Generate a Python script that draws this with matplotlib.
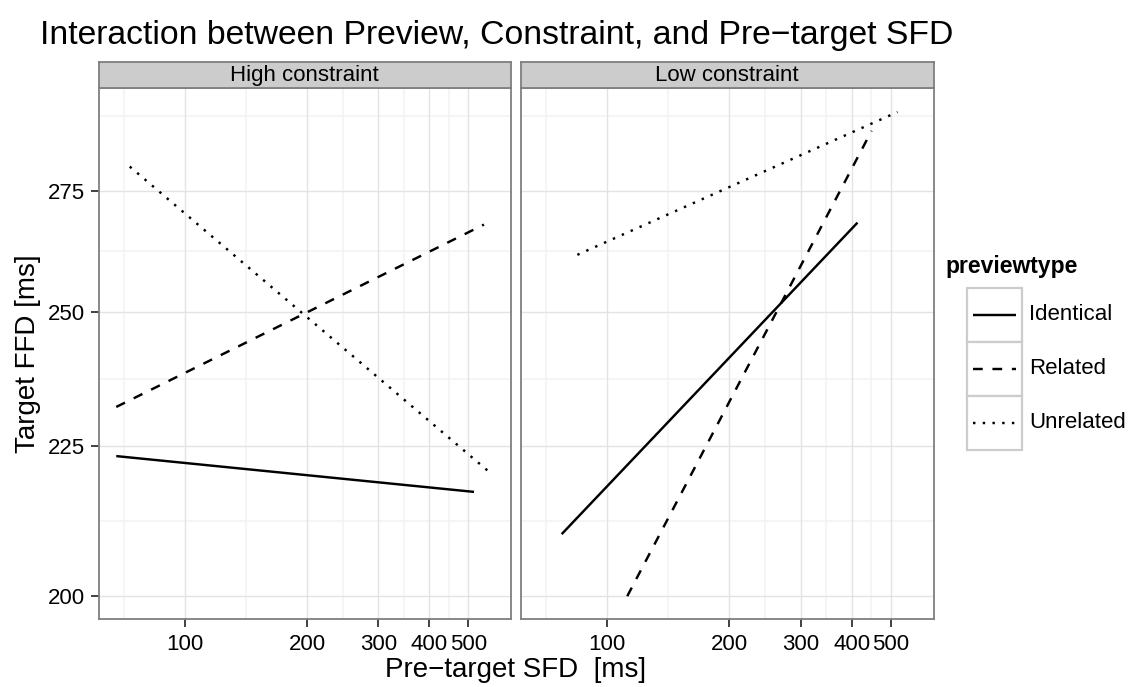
import matplotlib
matplotlib.use("Agg")
import matplotlib.pyplot as plt
import numpy as np
from matplotlib.patches import Rectangle
from matplotlib.lines import Line2D

plt.rcParams['font.family'] = ['Liberation Sans', 'DejaVu Sans']

# ---------------- data ----------------
panels = ["High constraint", "Low constraint"]
preview_types = ["Identical", "Related", "Unrelated"]
styles = {"Identical": (0, ()), "Related": (0, (4, 4)), "Unrelated": (0, (1, 3))}

# fitted-line endpoints (x = pre-target SFD ms, y = target FFD ms)
high_identical_x = [67.8, 516.0]
high_identical_y = [223.2, 217.0]
high_related_x = [67.8, 546.0]
high_related_y = [232.0, 267.8]
high_unrelated_x = [73.2, 561.0]
high_unrelated_y = [280.3, 220.5]

low_identical_x = [77.2, 413.5]
low_identical_y = [209.9, 268.2]
low_related_x = [112.0, 448.0]
low_related_y = [199.9, 288.3]
low_unrelated_x = [84.4, 519.0]
low_unrelated_y = [261.5, 292.6]

series = {
    "High constraint": {
        "Identical": (high_identical_x, high_identical_y),
        "Related": (high_related_x, high_related_y),
        "Unrelated": (high_unrelated_x, high_unrelated_y),
    },
    "Low constraint": {
        "Identical": (low_identical_x, low_identical_y),
        "Related": (low_related_x, low_related_y),
        "Unrelated": (low_unrelated_x, low_unrelated_y),
    },
}

x_ticks = [100, 200, 300, 400, 500]
y_ticks = [200, 225, 250, 275]

# ---------------- layout ----------------
W, H = 1132, 687
fig = plt.figure(figsize=(W / 100, H / 100), dpi=100)
fig.patch.set_facecolor("white")


def rect(x0, y0, x1, y1):
    return [x0 / W, 1 - y1 / H, (x1 - x0) / W, (y1 - y0) / H]


panel_top, panel_bot = 87.5, 619.3
panel_lefts = [98.5, 521.0]
panel_w = 412.5
strip_top = 62.0

xlim = (61.3, 636.5)
ylim = (196.3, 298.3)


def minor_breaks(major, lo, hi):
    lb = np.log10(major)
    bd = lb[1] - lb[0]
    ext = np.concatenate([[lb[0] - bd], lb, [lb[-1] + bd]])
    mids = (ext[:-1] + ext[1:]) / 2
    vals = 10 ** mids
    return [v for v in vals if lo < v < hi]


x_minor = minor_breaks(x_ticks, *xlim)
y_minor = minor_breaks(y_ticks, *ylim)

grey50 = "#7F7F7F"
lw_data = 1.75

for i, pname in enumerate(panels):
    x0 = panel_lefts[i]
    ax = fig.add_axes(rect(x0, panel_top, x0 + panel_w, panel_bot))
    ax.set_xscale("log")
    ax.set_yscale("log")
    ax.set_xlim(*xlim)
    ax.set_ylim(*ylim)
    for v in x_minor:
        ax.axvline(v, color="#F2F2F2", lw=1.1, zorder=0)
    for v in y_minor:
        ax.axhline(v, color="#F2F2F2", lw=1.1, zorder=0)
    for v in x_ticks:
        ax.axvline(v, color="#E3E3E3", lw=1.0, zorder=0.5)
    for v in y_ticks:
        ax.axhline(v, color="#E3E3E3", lw=1.0, zorder=0.5)
    for pt in preview_types:
        xs, ys = series[pname][pt]
        ax.plot(xs, ys, color="black", lw=lw_data, linestyle=styles[pt],
                solid_capstyle="butt", dash_capstyle="butt", zorder=3)
    ax.xaxis.set_minor_locator(matplotlib.ticker.NullLocator())
    ax.yaxis.set_minor_locator(matplotlib.ticker.NullLocator())
    ax.set_xticks(x_ticks)
    ax.set_xticklabels([str(t) for t in x_ticks], fontsize=16)
    ax.set_yticks(y_ticks)
    if i == 0:
        ax.set_yticklabels([str(t) for t in y_ticks], fontsize=16)
    else:
        ax.set_yticklabels([])
    ax.tick_params(axis="both", direction="out", length=5.5, width=1.3,
                   color="#333333", labelcolor="black")
    ax.tick_params(axis="x", pad=5)
    ax.tick_params(axis="y", pad=4)
    if i == 1:
        ax.tick_params(axis="y", length=0)
    for s in ax.spines.values():
        s.set_color(grey50)
        s.set_linewidth(1.3)

    # strip
    sax = fig.add_axes(rect(x0, strip_top, x0 + panel_w, panel_top))
    sax.set_facecolor("#CCCCCC")
    sax.set_xticks([])
    sax.set_yticks([])
    for s in sax.spines.values():
        s.set_color(grey50)
        s.set_linewidth(1.3)
    sax.text(0.5, 0.47, pname, ha="center", va="center", fontsize=16,
             transform=sax.transAxes)

# titles
fig.text(40 / W, 1 - 44 / H, "Interaction between Preview, Constraint, and Pre\u2212target SFD",
         ha="left", va="baseline", fontsize=24.3)
fig.text((98.5 + 933) / 2 / W, 1 - 670 / H, "Pre\u2212target SFD  [ms]",
         ha="center", va="center", fontsize=20)
fig.text(28 / W, 1 - (panel_top + panel_bot) / 2 / H, "Target FFD [ms]",
         ha="center", va="center", rotation=90, fontsize=20)

# legend
key_l, key_r = 967, 1022
key_tops = [288, 342, 396]
key_h = 54
lax = fig.add_axes(rect(0, 0, W, H))
lax.set_xlim(0, W)
lax.set_ylim(H, 0)
lax.axis("off")
lax.patch.set_alpha(0)
lax.text(945, 267, "previewtype", fontsize=16.5, fontweight="bold",
         ha="left", va="center")
for k, pt in enumerate(preview_types):
    t = key_tops[k]
    lax.add_patch(Rectangle((key_l, t), key_r - key_l, key_h, facecolor="white",
                            edgecolor="#CCCCCC", lw=1.6))
    lax.add_line(Line2D([key_l + 6, key_r - 6], [t + key_h / 2, t + key_h / 2],
                        color="black", lw=lw_data, linestyle=styles[pt],
                        solid_capstyle="butt", dash_capstyle="butt"))
    lax.text(1029, t + key_h / 2, pt, fontsize=16, ha="left", va="center")

fig.savefig("out.png", dpi=100, facecolor="white")
